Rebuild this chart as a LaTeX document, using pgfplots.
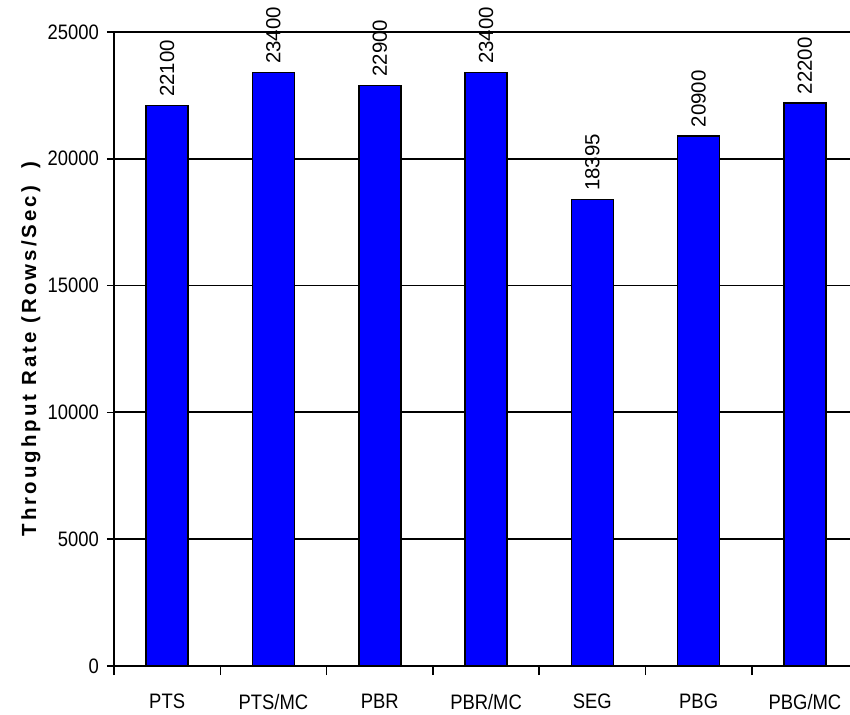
\documentclass[border=0pt]{standalone}
\usepackage{fontspec}
\setmainfont{Liberation Sans}
\newfontfamily\narrowfont{Liberation Sans}[FakeStretch=0.88]
\newfontfamily\labelfont{Liberation Sans}[LetterSpace=15]
\usepackage{pgfplots}
\pgfplotsset{compat=1.18}
\definecolor{barblue}{RGB}{0,0,255}

\begin{document}
\begin{tikzpicture}
\useasboundingbox (-114bp,-49bp) rectangle (736bp,666bp);
\begin{axis}[
  at={(0,0)}, anchor=south west,
  scale only axis,
  width=735.6bp, height=634bp,
  xmin=-0.5, xmax=6.42,
  ymin=0, ymax=25000,
  axis x line*=bottom, axis y line*=left,
  axis line style={line width=1.8bp, -},
  xtick={0,1,2,3,4,5,6},
  xticklabels={PTS,PTS/MC,PBR,PBR/MC,SEG,PBG,PBG/MC},
  minor xtick={-0.5,0.5,1.5,2.5,3.5,4.5,5.5},
  major x tick style={draw=none},
  minor tick length=9bp,
  ytick={0,5000,10000,15000,20000,25000},
  major tick length=7bp,
  tick align=outside,
  tick style={line width=1.5bp, black},
  ymajorgrids,
  major grid style={line width=1.8bp, black},
  /pgf/number format/assume math mode=true,
  /pgf/number format/1000 sep={},
  /pgf/number format/fixed,
  scaled y ticks=false,
  tick label style={font=\narrowfont\fontsize{21}{24}\selectfont},
  xticklabel style={inner sep=0pt, anchor=north, yshift=-21bp},
  yticklabel style={inner sep=0pt, anchor=east, xshift=-8bp},
  ylabel={Throughput Rate (Rows/Sec)\ \ )},
  every axis y label/.style={
    at={([xshift=-83bp]axis description cs:0,0.5)},
    rotate=90, anchor=center,
    font=\labelfont\bfseries\fontsize{20.5}{23}\selectfont},
  ybar, bar width=42bp,
  nodes near coords={\pgfmathprintnumber{\pgfplotspointmeta}},
  every node near coord/.append style={
    font=\fontsize{20.5}{24}\selectfont,
    rotate=90, anchor=west, inner sep=0pt, xshift=8bp},
  clip=false,
]
\addplot[fill=barblue, draw=black, line width=1.5bp] coordinates {
  (0,22100) (1,23400) (2,22900) (3,23400) (4,18395) (5,20900) (6,22200)
};
\end{axis}
\end{tikzpicture}
\end{document}
